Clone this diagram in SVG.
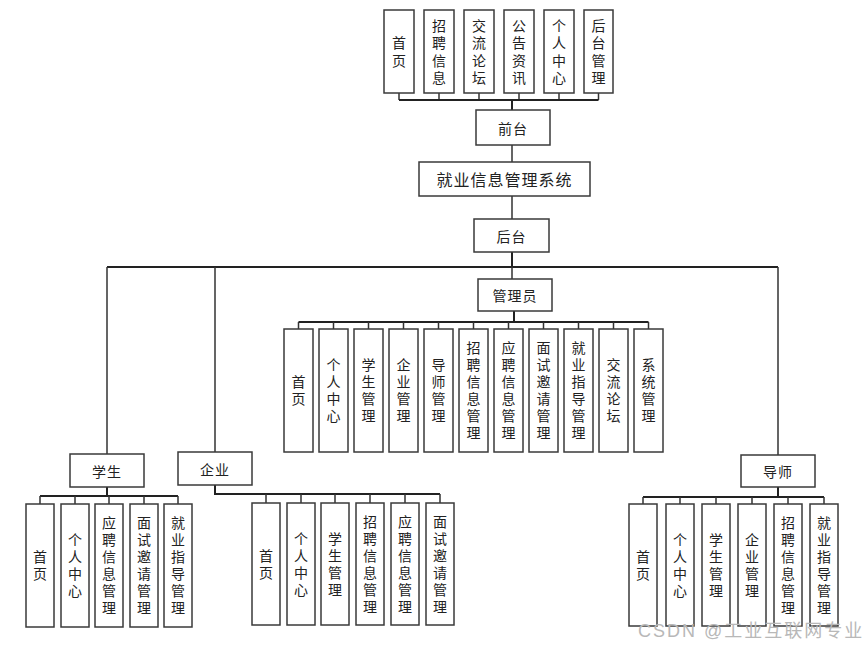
<svg xmlns="http://www.w3.org/2000/svg" width="865" height="650" viewBox="0 0 865 650">
<style>
.b{fill:#fff;stroke:#3a3a3a;stroke-width:1.5}
.t{font-family:"Noto Sans CJK SC","Liberation Sans",sans-serif;font-size:14px;fill:#222;text-anchor:middle;dominant-baseline:central}
.v{font-family:"Noto Sans CJK SC","Liberation Sans",sans-serif;font-size:14px;fill:#222;text-anchor:middle;writing-mode:vertical-rl;text-orientation:upright;letter-spacing:3px}
.v2{letter-spacing:3.5px}
.h{letter-spacing:1px}
.c{fill:none;stroke:#333;stroke-width:1.5}
.m{fill:none;stroke:#222;stroke-width:2}
.w{font-family:"Liberation Sans","Noto Sans CJK SC",sans-serif;font-size:18px;letter-spacing:2px;fill:#b8b8b8}
</style>
<rect width="865" height="650" fill="#fff"/>
<g id="connectors">
<path class="c" d="M399 93V100M439 93V100M479 93V100M519 93V100M559 93V100M598.5 93V100"/>
<path class="m" d="M399 100H598.5M512 100V110"/>
<path class="c" d="M512 145V162M512 196V219"/>
<path class="m" d="M512 252V267M107 267H778"/>
<path class="c" d="M107 267V454M215 267V452M778 267V455M512 267V279"/>
<path class="m" d="M514 311V322M298.5 322H648.5"/>
<path class="c" d="M298.5 322V329M333.5 322V329M368.5 322V329M403.5 322V329M438.5 322V329M473.5 322V329M508.5 322V329M543.5 322V329M578.5 322V329M613.5 322V329M648.5 322V329"/>
<path class="m" d="M107 487V496M40 496H178"/>
<path class="c" d="M40 496V504M75 496V504M109 496V504M144 496V504M178 496V504"/>
<path class="m" d="M215 485V494H440"/>
<path class="c" d="M266 494V503M301 494V503M335 494V503M370 494V503M405 494V503M440 494V503"/>
<path class="m" d="M778 487V497M643 497H824"/>
<path class="c" d="M643 497V504M680 497V504M716 497V504M752 497V504M788 497V504M824 497V504"/>
</g>
<g id="top-home"><rect class="b" x="384" y="10" width="30" height="83"/><text class="v v2" x="399" y="53.25">首页</text></g>
<g id="top-job"><rect class="b" x="424" y="10" width="30" height="83"/><text class="v v2" x="439" y="53.25">招聘信息</text></g>
<g id="top-forum"><rect class="b" x="464" y="10" width="30" height="83"/><text class="v v2" x="479" y="53.25">交流论坛</text></g>
<g id="top-news"><rect class="b" x="504" y="10" width="30" height="83"/><text class="v v2" x="519" y="53.25">公告资讯</text></g>
<g id="top-personal"><rect class="b" x="544" y="10" width="30" height="83"/><text class="v v2" x="559" y="53.25">个人中心</text></g>
<g id="top-admin"><rect class="b" x="584" y="10" width="29" height="83"/><text class="v v2" x="598.5" y="53.25">后台管理</text></g>
<g id="frontend"><rect class="b" x="476" y="110" width="74" height="35"/><text class="t h" x="513" y="127.5">前台</text></g>
<g id="system"><rect class="b" x="419" y="162" width="171" height="34"/><text class="t h" x="504.5" y="179" style="font-size:16px">就业信息管理系统</text></g>
<g id="backend"><rect class="b" x="474" y="219" width="75" height="33"/><text class="t h" x="511.5" y="235.5">后台</text></g>
<g id="admin"><rect class="b" x="478" y="279" width="74" height="32"/><text class="t h" x="515" y="295">管理员</text></g>
<g id="a1"><rect class="b" x="284" y="329" width="29" height="123"/><text class="v" x="298.5" y="392">首页</text></g>
<g id="a2"><rect class="b" x="319" y="329" width="29" height="123"/><text class="v" x="333.5" y="392">个人中心</text></g>
<g id="a3"><rect class="b" x="354" y="329" width="29" height="123"/><text class="v" x="368.5" y="392">学生管理</text></g>
<g id="a4"><rect class="b" x="389" y="329" width="29" height="123"/><text class="v" x="403.5" y="392">企业管理</text></g>
<g id="a5"><rect class="b" x="424" y="329" width="29" height="123"/><text class="v" x="438.5" y="392">导师管理</text></g>
<g id="a6"><rect class="b" x="459" y="329" width="29" height="123"/><text class="v" x="473.5" y="392">招聘信息管理</text></g>
<g id="a7"><rect class="b" x="494" y="329" width="29" height="123"/><text class="v" x="508.5" y="392">应聘信息管理</text></g>
<g id="a8"><rect class="b" x="529" y="329" width="29" height="123"/><text class="v" x="543.5" y="392">面试邀请管理</text></g>
<g id="a9"><rect class="b" x="564" y="329" width="29" height="123"/><text class="v" x="578.5" y="392">就业指导管理</text></g>
<g id="a10"><rect class="b" x="599" y="329" width="29" height="123"/><text class="v" x="613.5" y="392">交流论坛</text></g>
<g id="a11"><rect class="b" x="634" y="329" width="29" height="123"/><text class="v" x="648.5" y="392">系统管理</text></g>
<g id="student"><rect class="b" x="70" y="454" width="74" height="33"/><text class="t h" x="107" y="470.5">学生</text></g>
<g id="company"><rect class="b" x="178" y="452" width="74" height="33"/><text class="t h" x="215" y="468.5">企业</text></g>
<g id="mentor"><rect class="b" x="741" y="455" width="74" height="32"/><text class="t h" x="778" y="471">导师</text></g>
<g id="s1"><rect class="b" x="26" y="504" width="28" height="123"/><text class="v" x="40" y="567">首页</text></g>
<g id="s2"><rect class="b" x="61" y="504" width="28" height="123"/><text class="v" x="75" y="567">个人中心</text></g>
<g id="s3"><rect class="b" x="95" y="504" width="28" height="123"/><text class="v" x="109" y="567">应聘信息管理</text></g>
<g id="s4"><rect class="b" x="130" y="504" width="28" height="123"/><text class="v" x="144" y="567">面试邀请管理</text></g>
<g id="s5"><rect class="b" x="164" y="504" width="28" height="123"/><text class="v" x="178" y="567">就业指导管理</text></g>
<g id="c1"><rect class="b" x="252" y="503" width="28" height="122"/><text class="v" x="266" y="565.5">首页</text></g>
<g id="c2"><rect class="b" x="287" y="503" width="28" height="122"/><text class="v" x="301" y="565.5">个人中心</text></g>
<g id="c3"><rect class="b" x="321" y="503" width="28" height="122"/><text class="v" x="335" y="565.5">学生管理</text></g>
<g id="c4"><rect class="b" x="356" y="503" width="28" height="122"/><text class="v" x="370" y="565.5">招聘信息管理</text></g>
<g id="c5"><rect class="b" x="391" y="503" width="28" height="122"/><text class="v" x="405" y="565.5">应聘信息管理</text></g>
<g id="c6"><rect class="b" x="426" y="503" width="28" height="122"/><text class="v" x="440" y="565.5">面试邀请管理</text></g>
<g id="m1"><rect class="b" x="629" y="504" width="28" height="122"/><text class="v" x="643" y="566.5">首页</text></g>
<g id="m2"><rect class="b" x="666" y="504" width="28" height="122"/><text class="v" x="680" y="566.5">个人中心</text></g>
<g id="m3"><rect class="b" x="702" y="504" width="28" height="122"/><text class="v" x="716" y="566.5">学生管理</text></g>
<g id="m4"><rect class="b" x="738" y="504" width="28" height="122"/><text class="v" x="752" y="566.5">企业管理</text></g>
<g id="m5"><rect class="b" x="774" y="504" width="28" height="122"/><text class="v" x="788" y="566.5">招聘信息管理</text></g>
<g id="m6"><rect class="b" x="810" y="504" width="28" height="122"/><text class="v" x="824" y="566.5">就业指导管理</text></g>
<text class="w" x="638" y="637">CSDN @工业互联网专业</text>
</svg>
